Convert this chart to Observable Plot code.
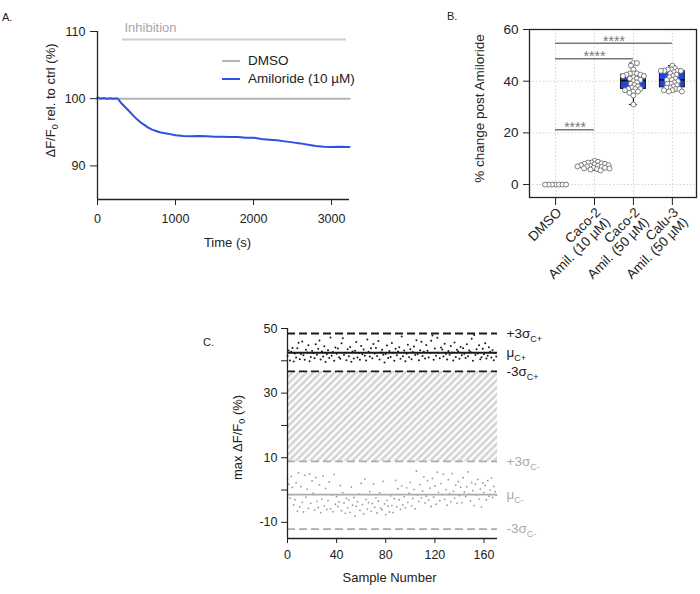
<!DOCTYPE html>
<html><head><meta charset="utf-8">
<script src="https://cdn.jsdelivr.net/npm/d3@7"></script>
<script src="https://cdn.jsdelivr.net/npm/@observablehq/plot@0.6"></script>
<style>
body{margin:0;background:#fff;}
#root{position:relative;width:700px;height:594px;overflow:hidden;font-family:"Liberation Sans",Arial,sans-serif;color:#222;}
.panel{position:absolute;}
.plabel{position:absolute;font-size:11px;line-height:12px;color:#222;}
.leg{position:absolute;font-size:13.5px;line-height:16px;color:#222;white-space:nowrap;}
.sw{position:absolute;height:2px;width:18px;}
</style></head><body><div id="root"></div>
<script>
// ---------- Panel A data ----------
const timeA = [0,40,80,120,160,200,240,260,300,350,400,450,500,550,600,650,700,750,800,850,900,
  1000,1100,1200,1300,1400,1500,1600,1700,1800,1900,2000,2100,2200,2300,2400,2500,2600,2700,2800,2900,3000,3100,3230];
const amilorideA = [100.2,100.0,100.1,100.0,100.05,100.0,100.05,100.0,99.4,98.8,98.2,97.6,97.0,96.5,96.1,95.7,95.4,95.2,95.0,94.9,94.8,
  94.55,94.45,94.4,94.45,94.4,94.35,94.35,94.3,94.3,94.2,94.2,94.0,93.9,93.8,93.65,93.5,93.35,93.15,92.95,92.85,92.8,92.85,92.8];
const dmsoTimeA = [0,3230];
const dmsoA = [100,100];
const inhibition = [{start:320, end:3190, level:108.8, label:"Inhibition"}];
const seriesA = ["DMSO","Amiloride (10 µM)"];
const colorsA = ["#b5b5b5","#3050e0"];
const xTicksA = [0,1000,2000,3000];
const yTicksA = [90,100,110];

// ---------- Panel B data ----------
const catsB = ["DMSO","Caco-2\nAmil. (10 µM)","Caco-2\nAmil. (50 µM)","Calu-3\nAmil. (50 µM)"];
const dmsoB = [0,0,0,0,0,0,0];
const caco10B = [5.5,5.8,6,6.2,6.3,6.5,6.5,6.8,7,7,7.2,7.3,7.5,7.5,7.8,8,8,8.2,8.5,8.5,8.8,9.2];
const caco50B = [31,34.5,35.5,36,36,36.5,37,37,37,37.5,38,38.5,39,39.5,40,40.5,41,41,41.5,42,42,42.5,42.5,43,43,43,44.5,46,47,47];
const calu50B = [36,36,36.5,36.5,37,37,37.5,37.5,38,38.5,39,39,39.5,40,40.5,40.5,41,41.5,42,42.5,43,43.5,44,44,44,44,44.5,44.5,45,46];
const sigB = [{from:0,to:3,y:54.7},{from:0,to:2,y:48.7},{from:0,to:1,y:21.2}];
const yTicksB = [0,20,40,60];

// ---------- Panel C data ----------
const posC = [
41.5,43.2,40.1,42.8,44.0,39.8,42.3,41.0,43.9,45.6,
40.5,42.1,46.0,41.7,40.3,43.4,42.6,44.8,39.9,41.2,
43.0,42.4,40.8,45.1,41.9,43.7,46.3,40.4,42.9,41.3,
44.5,39.6,42.0,43.3,40.9,47.2,41.6,42.7,40.0,44.1,
42.2,43.8,41.1,40.6,45.4,47.0,41.8,42.5,40.2,43.6,
41.4,44.3,39.7,42.9,40.7,43.1,45.8,41.0,42.4,40.3,
44.6,42.0,43.5,41.6,40.1,46.6,42.8,41.3,43.9,40.8,
45.2,42.3,44.0,41.5,46.1,40.4,42.6,43.4,41.9,39.5,
42.1,44.7,40.9,43.0,41.2,45.5,42.5,40.0,43.7,41.7,
42.9,44.2,40.6,47.5,41.4,43.2,39.9,42.2,45.0,41.1,
43.6,40.5,42.7,44.4,41.8,46.4,42.0,40.2,43.3,45.9,
41.5,42.8,40.7,44.9,43.1,41.0,42.4,46.2,47.8,40.3,
43.8,41.6,47.1,42.5,40.8,44.1,43.5,41.3,45.3,42.1,
40.4,43.0,41.9,44.6,42.6,40.1,45.7,41.2,43.4,42.9,
40.6,44.3,41.7,43.9,42.2,40.9,45.1,41.4,43.2,42.7,
46.8,40.0,48.0,41.8,43.6,42.3,44.8,40.5,41.1,43.7,
42.0,45.4,40.7,41.6,44.2,42.8,41.0,43.3,40.2,42.4,
41.3];
const negC = [
3.5,1.8,-2.5,4.2,0.8,-4.6,-3.0,2.2,-6.5,5.3,
-5.2,1.1,-3.8,-6.8,4.6,-2.2,0.3,-5.7,5.0,-4.1,
2.8,-1.0,-6.2,3.9,-3.5,-5.4,1.6,-7.0,-2.8,4.4,
-4.9,0.5,-6.0,-3.3,2.5,-5.8,-1.5,-6.7,4.8,-4.4,
-2.0,-5.1,-3.7,1.4,-6.4,-0.8,-4.0,-7.2,-2.6,-5.5,
-3.1,-6.9,0.9,-4.7,-2.3,-8.1,-5.0,-3.6,-1.2,-6.3,
2.1,-4.5,-7.4,3.4,-2.9,-5.9,-3.9,-0.5,-6.6,-4.2,
1.9,-5.3,-2.4,-7.1,-3.4,-0.9,-5.6,-6.1,2.7,-4.3,
-7.6,-3.2,-5.0,-6.8,-1.8,-4.8,-7.0,-2.7,3.0,-5.2,
0.4,-3.0,-6.0,1.3,-4.6,-2.1,-5.5,0.7,-3.8,-1.0,
2.4,-4.9,-2.6,0.2,-5.8,5.9,-1.6,-3.5,1.7,-2.4,
-0.3,4.1,-4.0,-1.9,2.9,-3.1,0.6,-5.1,3.6,-2.2,
1.2,-4.4,5.5,-0.7,-3.3,2.0,-1.4,4.9,-2.9,0.1,
-4.7,3.2,-1.1,-3.6,5.1,-0.4,-2.5,1.5,-4.1,2.6,
-1.7,0.9,-3.9,3.8,-0.6,-2.0,1.0,5.6,-1.3,-3.4,
2.3,-0.2,-4.8,1.8,-1.5,3.3,-2.8,0.3,-5.2,2.2,
-0.8,1.4,-3.0,2.9,-1.9,0.0,3.7,-2.3,1.1,-0.5,
-1.6];
const statLabelsC = ["+3σ","μ","-3σ","+3σ","μ","-3σ"];
const statSubsC = ["C+","C+","C+","C-","C-","C-"];
const statValuesC = [48.45,42.5,36.7,8.85,-1.4,-12.1];
const statGroupC = ["pos","pos","pos","neg","neg","neg"];
const statKindC = ["sd","mu","sd","sd","mu","sd"];
const xTicksC = [0,40,80,120,160];
const yTicksC = [-10,0,10,20,30,40,50];
const yLabeledC = [50,30,10,-10];

// ---------- helpers ----------
const FONT = "Liberation Sans, Arial, sans-serif";
const root = document.getElementById("root");
function place(el, left, top){ const d=document.createElement("div"); d.className="panel"; d.style.left=left+"px"; d.style.top=top+"px"; d.appendChild(el); root.appendChild(d); return d; }
function richify(svg, key, main, sub, subSize, shift){
  d3.select(svg).selectAll("text").filter(function(){return this.textContent===key;}).each(function(){
    const t=d3.select(this); t.text(null);
    t.append("tspan").text(main);
    t.append("tspan").attr("font-size",subSize).attr("dy",shift).text(sub);
  });
}
function richify3(svg, key, a, sub, b, subSize, shift){
  d3.select(svg).selectAll("text").filter(function(){return this.textContent===key;}).each(function(){
    const t=d3.select(this); t.text(null);
    t.append("tspan").text(a);
    t.append("tspan").attr("font-size",subSize).attr("dy",shift).text(sub);
    t.append("tspan").attr("dy",-shift).text(b);
  });
}
function lbl(text,left,top){ const d=document.createElement("div"); d.className="plabel"; d.style.left=left+"px"; d.style.top=top+"px"; d.textContent=text; root.appendChild(d); }

// ---------- Panel A ----------
const A = {w:380,h:260,mL:97,mR:31,mT:31,mB:61, xd:[0,3230], yd:[85,110]};
const ampData = timeA.map((t,i)=>({t, v:amilorideA[i]}));
const dmsoData = dmsoTimeA.map((t,i)=>({t, v:dmsoA[i]}));
const plotA = Plot.plot({
  width:A.w, height:A.h, marginLeft:A.mL, marginRight:A.mR, marginTop:A.mT, marginBottom:A.mB,
  style:{fontFamily:FONT, fontSize:"12.5px", background:"transparent", color:"#222", overflow:"visible"},
  x:{domain:A.xd}, y:{domain:A.yd},
  marks:[
    Plot.ruleY(inhibition,{y:"level", x1:"start", x2:"end", stroke:"#cfcfcf", strokeWidth:2}),
    Plot.text(inhibition,{x:"start", y:"level", text:"label", textAnchor:"start", dx:2, dy:-12, fill:"#a8a8a8", fontSize:13}),
    Plot.line(dmsoData,{x:"t", y:"v", stroke:colorsA[0], strokeWidth:2}),
    Plot.line(ampData,{x:"t", y:"v", stroke:colorsA[1], strokeWidth:2}),
    Plot.ruleY([A.yd[0]],{stroke:"#222", strokeWidth:1.3}),
    Plot.ruleX([A.xd[0]],{stroke:"#222", strokeWidth:1.3}),
    Plot.axisX({ticks:xTicksA, tickSize:6, tickPadding:9, fontSize:12.5, label:null, tickFormat:d=>String(d)}),
    Plot.axisY({ticks:yTicksA, tickSize:7, tickPadding:5, fontSize:12.5, label:null, tickFormat:d=>String(d)}),
    Plot.text(["Time (s)"],{frameAnchor:"bottom", lineAnchor:"middle", textAnchor:"middle", dy:43, dx:4, fontSize:13, fill:"#222"}),
    Plot.text(["ΔF/F0 rel. to ctrl (%)"],{frameAnchor:"left", textAnchor:"middle", lineAnchor:"middle", dx:-47, dy:-15, rotate:-90, fontSize:13, fill:"#222"})
  ]
});
richify3(plotA,"ΔF/F0 rel. to ctrl (%)","ΔF/F","0"," rel. to ctrl (%)",9,3);
place(plotA,0,0);
// legend A
seriesA.forEach((s,i)=>{
  const sw=document.createElement("div"); sw.className="sw"; sw.style.background=colorsA[i];
  sw.style.left="222px"; sw.style.top=(60+i*18)+"px"; root.appendChild(sw);
  const t=document.createElement("div"); t.className="leg"; t.textContent=s;
  t.style.left="248px"; t.style.top=(53+i*18)+"px"; root.appendChild(t);
});

// ---------- Panel B ----------
const B = {w:260,h:300,mL:89,mR:4,mT:29,mB:103, xd:[-0.67,3.62], yd:[-5,60]};
const groupsB = [dmsoB,caco10B,caco50B,calu50B];
const statsB = groupsB.map((vals,i)=>{ const s=vals.slice().sort(d3.ascending);
  return {i, min:s[0], max:s[s.length-1], q1:d3.quantile(s,0.25), med:d3.quantile(s,0.5), q3:d3.quantile(s,0.75)}; });
const ysB = d3.scaleLinear().domain(B.yd).range([B.h-B.mB, B.mT]);
const pxPerUnitB = (B.w-B.mL-B.mR)/(B.xd[1]-B.xd[0]);
function swarm(values, ci, r, factor){
  const d=2*r*factor, placed=[], out=[];
  values.map(v=>({v,py:ysB(v)})).sort((a,b)=>a.py-b.py).forEach(p=>{
    let cand=0;
    for(let k=0;k<400;k++){
      cand=(k%2?1:-1)*Math.ceil(k/2)*0.5;
      if(!placed.some(q=>(q.px-cand)**2+(q.py-p.py)**2 < d*d)) break;
    }
    placed.push({px:cand,py:p.py});
    out.push({x:ci+cand/pxPerUnitB, y:p.v});
  });
  return out;
}
const dotsB = groupsB.flatMap((vals,i)=>swarm(vals,i,2.5,0.7));
const BW = 0.32, CAP = 0.1, BLUE = "#1f44e6";
const plotB = Plot.plot({
  width:B.w, height:B.h, marginLeft:B.mL, marginRight:B.mR, marginTop:B.mT, marginBottom:B.mB,
  style:{fontFamily:FONT, fontSize:"13.5px", background:"transparent", color:"#222", overflow:"visible"},
  x:{domain:B.xd}, y:{domain:B.yd},
  marks:[
    Plot.gridY({ticks:yTicksB, stroke:"#c8c8c8", strokeOpacity:1, strokeDasharray:"1.5,2", strokeWidth:0.8}),
    Plot.gridX({ticks:[0,1,2,3], stroke:"#c8c8c8", strokeOpacity:1, strokeDasharray:"1.5,2", strokeWidth:0.8}),
    Plot.ruleX(statsB,{x:"i", y1:"min", y2:"q1", stroke:"#111", strokeWidth:1.2}),
    Plot.ruleX(statsB,{x:"i", y1:"q3", y2:"max", stroke:"#111", strokeWidth:1.2}),
    Plot.ruleY(statsB,{y:"min", x1:d=>d.i-CAP, x2:d=>d.i+CAP, stroke:"#111", strokeWidth:1.2}),
    Plot.ruleY(statsB,{y:"max", x1:d=>d.i-CAP, x2:d=>d.i+CAP, stroke:"#111", strokeWidth:1.2}),
    Plot.rect(statsB.filter(s=>s.q3>s.q1),{x1:d=>d.i-BW, x2:d=>d.i+BW, y1:"q1", y2:"q3", fill:BLUE, stroke:"#111", strokeWidth:1}),
    Plot.ruleY(statsB,{y:"med", x1:d=>d.i-BW, x2:d=>d.i+BW, stroke:"#111", strokeWidth:1.6}),
    Plot.dot(dotsB,{x:"x", y:"y", r:2.5, fill:"white", stroke:"#707070", strokeWidth:0.9}),
    Plot.ruleY(sigB,{y:"y", x1:"from", x2:"to", stroke:"#777", strokeWidth:1.5}),
    Plot.text(sigB,{x:d=>(d.from+d.to)/2, y:"y", text:()=>"****", dy:-2, fontSize:14, fill:"#777"}),
    Plot.frame({stroke:"#222", strokeWidth:1.3}),
    Plot.axisY({ticks:yTicksB, tickSize:6, tickPadding:5, fontSize:13.5, label:null, tickFormat:d=>String(d)}),
    Plot.axisX({ticks:[0,1,2,3], tickSize:8, tickFormat:()=>"", label:null}),
    Plot.text(catsB,{x:(d,i)=>i, text:d=>d, frameAnchor:"bottom", dy:9, rotate:-45, textAnchor:"end", lineAnchor:"top", fontSize:13.5, fill:"#222"}),
    Plot.text(["% change post Amiloride"],{frameAnchor:"left", textAnchor:"middle", lineAnchor:"middle", dx:-50, dy:-5, rotate:-90, fontSize:13.5, fill:"#222"})
  ]
});
place(plotB,440,0);

// ---------- Panel C ----------
const C = {w:360,h:284,mL:97,mR:53,mT:18,mB:56, xd:[0,171], yd:[-15,50]};
const posData = posC.map((v,i)=>({i,v}));
const negData = negC.map((v,i)=>({i,v}));
const statsC = statValuesC.map((v,k)=>({value:v, label:statLabelsC[k]+statSubsC[k], group:statGroupC[k], kind:statKindC[k]}));
const hatchBand = [{y1:statValuesC[2], y2:statValuesC[3]}];
const colC = d=>d.group==="pos"?"#1a1a1a":"#ababab";
const plotC = Plot.plot({
  width:C.w, height:C.h, marginLeft:C.mL, marginRight:C.mR, marginTop:C.mT, marginBottom:C.mB,
  style:{fontFamily:FONT, fontSize:"12.5px", background:"transparent", color:"#222", overflow:"visible"},
  x:{domain:C.xd}, y:{domain:C.yd},
  marks:[
    Plot.rect(hatchBand,{x1:()=>C.xd[0], x2:()=>C.xd[1], y1:"y1", y2:"y2", fill:"#d1d1d1"}),
    Plot.dot(negData,{x:"i", y:"v", r:0.9, fill:"#9a9a9a", stroke:"none"}),
    Plot.dot(posData,{x:"i", y:"v", r:1, fill:"#1a1a1a", stroke:"none"}),
    Plot.ruleY(statsC.filter(d=>d.kind==="sd"&&d.group==="pos"),{y:"value", stroke:"#1a1a1a", strokeWidth:1.8, strokeDasharray:"8,4"}),
    Plot.ruleY(statsC.filter(d=>d.kind==="sd"&&d.group==="neg"),{y:"value", stroke:"#ababab", strokeWidth:1.8, strokeDasharray:"8,4"}),
    Plot.ruleY(statsC.filter(d=>d.kind==="mu"&&d.group==="pos"),{y:"value", stroke:"#1a1a1a", strokeWidth:1.8}),
    Plot.ruleY(statsC.filter(d=>d.kind==="mu"&&d.group==="neg"),{y:"value", stroke:"#ababab", strokeWidth:1.8}),
    Plot.text(statsC,{y:"value", text:"label", frameAnchor:"right", dx:9, textAnchor:"start", fill:colC, fontSize:13.5}),
    Plot.ruleY([C.yd[0]],{stroke:"#222", strokeWidth:1.3}),
    Plot.ruleX([C.xd[0]],{stroke:"#222", strokeWidth:1.3}),
    Plot.axisX({ticks:xTicksC, tickSize:5, tickPadding:7, fontSize:12.5, label:null, tickFormat:d=>String(d)}),
    Plot.axisY({ticks:yTicksC, tickSize:6, tickPadding:4, fontSize:12.5, label:null, tickFormat:d=>yLabeledC.includes(d)?String(d):""}),
    Plot.text(["Sample Number"],{frameAnchor:"bottom", lineAnchor:"middle", textAnchor:"middle", dy:39, dx:-3, fontSize:13, fill:"#222"}),
    Plot.text(["max ΔF/F0 (%)"],{frameAnchor:"left", textAnchor:"middle", lineAnchor:"middle", dx:-50, dy:4, rotate:-90, fontSize:13, fill:"#222"})
  ]
});
// hatch pattern
const defs = d3.select(plotC).insert("defs",":first-child");
const pat = defs.append("pattern").attr("id","hatchC").attr("patternUnits","userSpaceOnUse")
  .attr("width",5).attr("height",5).attr("patternTransform","rotate(45)");
pat.append("rect").attr("width",5).attr("height",5).attr("fill","#ffffff");
pat.append("line").attr("x1",1.5).attr("y1",0).attr("x2",1.5).attr("y2",5).attr("stroke","#d0d0d0").attr("stroke-width",2.4);
d3.select(plotC).selectAll('[fill="#d1d1d1"]').attr("fill","url(#hatchC)");
statsC.forEach((d,k)=>richify(plotC,d.label,statLabelsC[k],statSubsC[k],9,4));
richify3(plotC,"max ΔF/F0 (%)","max ΔF/F","0"," (%)",9,3);
place(plotC,190,310);

// panel labels
lbl("A.",2,11); lbl("B.",447,10); lbl("C.",203,336);
</script>
</body></html>
